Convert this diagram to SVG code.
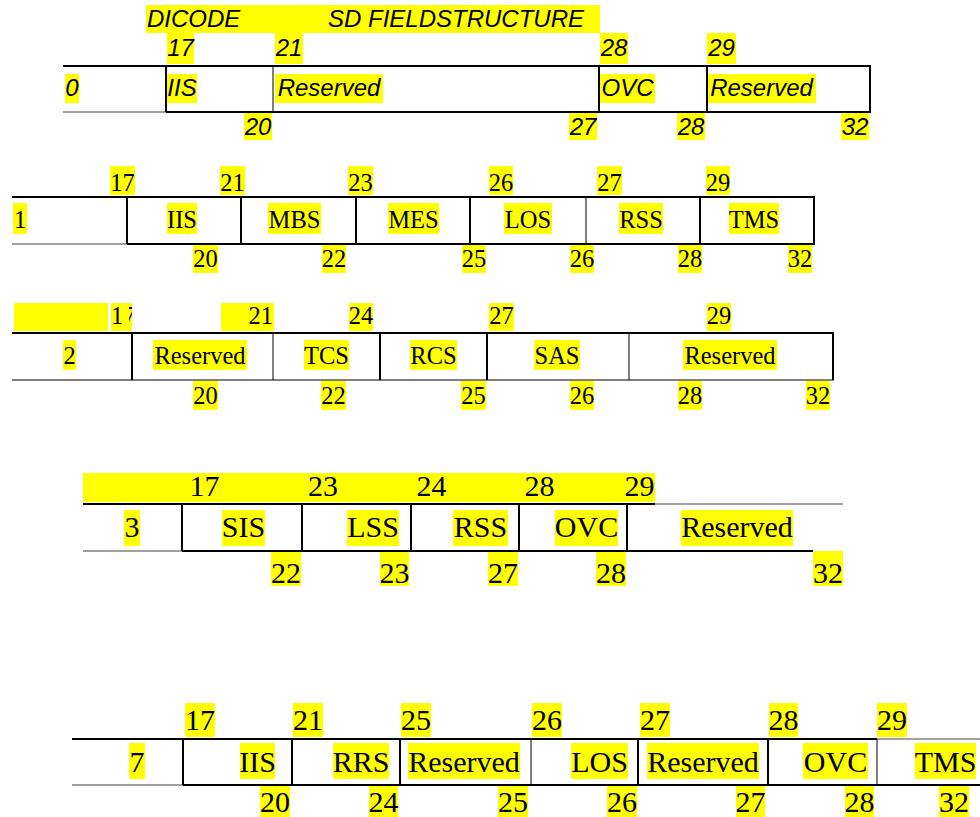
<svg xmlns="http://www.w3.org/2000/svg" width="980" height="817" viewBox="0 0 980 817">
<style>
.hl{fill:#ffff00}
.a{font-family:"Liberation Sans",Arial,sans-serif;font-style:italic;font-size:24px;fill:#000}
.t{font-family:"Liberation Serif","Times New Roman",serif;font-size:24.5px;fill:#000;text-anchor:middle}
.T{font-family:"Liberation Serif","Times New Roman",serif;font-size:30px;fill:#000;text-anchor:middle}
.am{text-anchor:middle}
.k{stroke:#000;stroke-width:2;fill:none}
.n{stroke:#000;stroke-width:1;fill:none}
.g{stroke:#808080;stroke-width:1.5;fill:none}
</style>
<defs>
<clipPath id="c17"><rect x="100" y="295" width="22" height="40"/><rect x="129" y="295" width="3" height="40"/></clipPath>
</defs>
<rect width="980" height="817" fill="#fff"/>

<!-- Row 0 -->
<g id="row0">
<rect class="hl" x="146" y="5" width="454" height="28"/>
<text class="a" x="147" y="27">DICODE</text>
<text class="a" x="328" y="27">SD FIELDSTRUCTURE</text>
<rect class="hl" x="167" y="33" width="27" height="31"/>
<rect class="hl" x="275" y="33" width="28" height="31"/>
<rect class="hl" x="600" y="33" width="28" height="31"/>
<rect class="hl" x="707" y="33" width="29" height="31"/>
<text class="a am" x="180.5" y="56">17</text>
<text class="a am" x="289" y="56">21</text>
<text class="a am" x="614" y="56">28</text>
<text class="a am" x="721.5" y="56">29</text>
<rect class="hl" x="65" y="74" width="14" height="29"/>
<rect class="hl" x="167" y="74" width="30" height="29"/>
<rect class="hl" x="275" y="74" width="108" height="29"/>
<rect class="hl" x="600" y="74" width="55" height="29"/>
<rect class="hl" x="707" y="74" width="109" height="29"/>
<text class="a am" x="72" y="96">0</text>
<text class="a am" x="182" y="96">IIS</text>
<text class="a am" x="329" y="96">Reserved</text>
<text class="a am" x="627.5" y="96">OVC</text>
<text class="a am" x="761.5" y="96">Reserved</text>
<rect class="hl" x="244" y="113" width="28" height="27"/>
<rect class="hl" x="569" y="113" width="28" height="27"/>
<rect class="hl" x="677" y="113" width="28" height="27"/>
<rect class="hl" x="841" y="113" width="28" height="27"/>
<text class="a am" x="258" y="135">20</text>
<text class="a am" x="583" y="135">27</text>
<text class="a am" x="691" y="135">28</text>
<text class="a am" x="855" y="135">32</text>
</g>

<!-- Row 1 -->
<g id="row1">
<rect class="hl" x="110" y="166" width="25" height="29"/>
<rect class="hl" x="220" y="166" width="25" height="29"/>
<rect class="hl" x="348" y="166" width="25" height="29"/>
<rect class="hl" x="489" y="166" width="24" height="29"/>
<rect class="hl" x="597" y="166" width="25" height="29"/>
<rect class="hl" x="706" y="166" width="24" height="29"/>
<text class="t" x="122.5" y="191">17</text>
<text class="t" x="232.5" y="191">21</text>
<text class="t" x="360.5" y="191">23</text>
<text class="t" x="501" y="191">26</text>
<text class="t" x="609.5" y="191">27</text>
<text class="t" x="718" y="191">29</text>
<rect class="hl" x="13" y="203" width="14" height="31"/>
<rect class="hl" x="167" y="203" width="30" height="31"/>
<rect class="hl" x="268" y="203" width="53" height="31"/>
<rect class="hl" x="388" y="203" width="51" height="31"/>
<rect class="hl" x="504" y="203" width="48" height="31"/>
<rect class="hl" x="619" y="203" width="44" height="31"/>
<rect class="hl" x="729" y="203" width="50" height="31"/>
<text class="t" x="20" y="228">1</text>
<text class="t" x="182" y="228">IIS</text>
<text class="t" x="294.5" y="228">MBS</text>
<text class="t" x="413.5" y="228">MES</text>
<text class="t" x="528" y="228">LOS</text>
<text class="t" x="641" y="228">RSS</text>
<text class="t" x="754" y="228">TMS</text>
<rect class="hl" x="193" y="245" width="25" height="28"/>
<rect class="hl" x="322" y="245" width="24" height="28"/>
<rect class="hl" x="462" y="245" width="24" height="28"/>
<rect class="hl" x="570" y="245" width="24" height="28"/>
<rect class="hl" x="678" y="245" width="24" height="28"/>
<rect class="hl" x="788" y="245" width="24" height="28"/>
<text class="t" x="205.5" y="267">20</text>
<text class="t" x="334" y="267">22</text>
<text class="t" x="474" y="267">25</text>
<text class="t" x="582" y="267">26</text>
<text class="t" x="690" y="267">28</text>
<text class="t" x="800" y="267">32</text>
</g>

<!-- Row 2 -->
<g id="row2">
<rect class="hl" x="14" y="303" width="94" height="28"/>
<rect class="hl" x="111" y="303" width="21" height="28"/>
<rect class="hl" x="221" y="303" width="53" height="28"/>
<rect class="hl" x="349" y="303" width="24" height="28"/>
<rect class="hl" x="489" y="303" width="25" height="28"/>
<rect class="hl" x="707" y="303" width="24" height="28"/>
<text class="t" x="111" y="324" style="text-anchor:start" clip-path="url(#c17)">17</text>
<text class="t" x="273" y="324" style="text-anchor:end">21</text>
<text class="t" x="361" y="324">24</text>
<text class="t" x="501.5" y="324">27</text>
<text class="t" x="719" y="324">29</text>
<rect class="hl" x="63" y="340" width="13" height="30"/>
<rect class="hl" x="153" y="340" width="94" height="30"/>
<rect class="hl" x="304" y="340" width="45" height="30"/>
<rect class="hl" x="410" y="340" width="47" height="30"/>
<rect class="hl" x="534" y="340" width="46" height="30"/>
<rect class="hl" x="683" y="340" width="94" height="30"/>
<text class="t" x="69.5" y="364">2</text>
<text class="t" x="200" y="364">Reserved</text>
<text class="t" x="326.5" y="364">TCS</text>
<text class="t" x="433.5" y="364">RCS</text>
<text class="t" x="557" y="364">SAS</text>
<text class="t" x="730" y="364">Reserved</text>
<rect class="hl" x="193" y="381" width="25" height="29"/>
<rect class="hl" x="321" y="381" width="25" height="29"/>
<rect class="hl" x="461" y="381" width="25" height="29"/>
<rect class="hl" x="570" y="381" width="24" height="29"/>
<rect class="hl" x="678" y="381" width="24" height="29"/>
<rect class="hl" x="806" y="381" width="24" height="29"/>
<text class="t" x="205.5" y="404">20</text>
<text class="t" x="333.5" y="404">22</text>
<text class="t" x="473.5" y="404">25</text>
<text class="t" x="582" y="404">26</text>
<text class="t" x="690" y="404">28</text>
<text class="t" x="818" y="404">32</text>
</g>

<!-- Row 3 -->
<g id="row3">
<rect class="hl" x="83" y="473" width="572" height="29"/>
<text class="T" x="204.5" y="496">17</text>
<text class="T" x="323" y="496">23</text>
<text class="T" x="431.5" y="496">24</text>
<text class="T" x="539.5" y="496">28</text>
<text class="T" x="639.5" y="496">29</text>
<rect class="hl" x="124" y="510" width="16" height="36"/>
<rect class="hl" x="222" y="510" width="43" height="36"/>
<rect class="hl" x="347" y="510" width="52" height="36"/>
<rect class="hl" x="453" y="510" width="55" height="36"/>
<rect class="hl" x="555" y="510" width="63" height="36"/>
<rect class="hl" x="681" y="510" width="112" height="36"/>
<text class="T" x="132" y="537">3</text>
<text class="T" x="243.5" y="537">SIS</text>
<text class="T" x="373" y="537">LSS</text>
<text class="T" x="480.5" y="537">RSS</text>
<text class="T" x="586.5" y="537">OVC</text>
<text class="T" x="737" y="537">Reserved</text>
<rect class="hl" x="271" y="552" width="30" height="34"/>
<rect class="hl" x="380" y="552" width="29" height="34"/>
<rect class="hl" x="488" y="552" width="30" height="34"/>
<rect class="hl" x="596" y="552" width="30" height="34"/>
<rect class="hl" x="813" y="551" width="30" height="35"/>
<text class="T" x="286" y="583">22</text>
<text class="T" x="394.5" y="583">23</text>
<text class="T" x="503" y="583">27</text>
<text class="T" x="611" y="583">28</text>
<text class="T" x="828" y="583">32</text>
</g>

<!-- Row 4 -->
<g id="row4">
<rect class="hl" x="185" y="703" width="30" height="34"/>
<rect class="hl" x="293" y="703" width="30" height="34"/>
<rect class="hl" x="401" y="703" width="30" height="34"/>
<rect class="hl" x="532" y="703" width="30" height="34"/>
<rect class="hl" x="640" y="703" width="30" height="34"/>
<rect class="hl" x="769" y="703" width="29" height="34"/>
<rect class="hl" x="877" y="703" width="30" height="34"/>
<text class="T" x="200" y="730">17</text>
<text class="T" x="308" y="730">21</text>
<text class="T" x="416" y="730">25</text>
<text class="T" x="547" y="730">26</text>
<text class="T" x="655" y="730">27</text>
<text class="T" x="783.5" y="730">28</text>
<text class="T" x="892" y="730">29</text>
<rect class="hl" x="129" y="743" width="16" height="36"/>
<rect class="hl" x="240" y="743" width="35" height="36"/>
<rect class="hl" x="333" y="743" width="56" height="36"/>
<rect class="hl" x="408" y="743" width="112" height="36"/>
<rect class="hl" x="571" y="743" width="57" height="36"/>
<rect class="hl" x="647" y="743" width="112" height="36"/>
<rect class="hl" x="803" y="743" width="65" height="36"/>
<rect class="hl" x="915" y="743" width="61" height="36"/>
<text class="T" x="137" y="772">7</text>
<text class="T" x="257.5" y="772">IIS</text>
<text class="T" x="361" y="772">RRS</text>
<text class="T" x="464" y="772">Reserved</text>
<text class="T" x="599.5" y="772">LOS</text>
<text class="T" x="703" y="772">Reserved</text>
<text class="T" x="835.5" y="772">OVC</text>
<text class="T" x="945.5" y="772">TMS</text>
<rect class="hl" x="260" y="786" width="30" height="31"/>
<rect class="hl" x="369" y="786" width="29" height="31"/>
<rect class="hl" x="498" y="786" width="30" height="31"/>
<rect class="hl" x="607" y="786" width="30" height="31"/>
<rect class="hl" x="736" y="786" width="29" height="31"/>
<rect class="hl" x="845" y="786" width="29" height="31"/>
<rect class="hl" x="939" y="786" width="30" height="31"/>
<text class="T" x="275" y="812">20</text>
<text class="T" x="383.5" y="812">24</text>
<text class="T" x="513" y="812">25</text>
<text class="T" x="622" y="812">26</text>
<text class="T" x="750.5" y="812">27</text>
<text class="T" x="859.5" y="812">28</text>
<text class="T" x="954" y="812">32</text>
</g>

<!-- Grid lines -->
<g id="connectors">
<!-- row 0 -->
<line class="k" x1="63" y1="66" x2="871" y2="66"/>
<line class="g" x1="63" y1="112" x2="166" y2="112"/>
<line class="k" x1="166" y1="112" x2="871" y2="112"/>
<line class="k" x1="166" y1="66" x2="166" y2="112"/>
<line class="n" x1="273" y1="66" x2="273" y2="112"/>
<line class="k" x1="599" y1="66" x2="599" y2="112"/>
<line class="k" x1="707" y1="66" x2="707" y2="112"/>
<line class="k" x1="870" y1="66" x2="870" y2="112"/>
<!-- row 1 -->
<line class="k" x1="12" y1="197" x2="815" y2="197"/>
<line class="g" x1="12" y1="244" x2="127" y2="244"/>
<line class="k" x1="127" y1="244" x2="815" y2="244"/>
<line class="k" x1="127" y1="197" x2="127" y2="244"/>
<line class="k" x1="241" y1="197" x2="241" y2="244"/>
<line class="k" x1="356" y1="197" x2="356" y2="244"/>
<line class="k" x1="470" y1="197" x2="470" y2="244"/>
<line class="n" x1="586" y1="197" x2="586" y2="244"/>
<line class="k" x1="700" y1="197" x2="700" y2="244"/>
<line class="k" x1="814" y1="197" x2="814" y2="244"/>
<!-- row 2 -->
<line class="k" x1="12" y1="333" x2="834" y2="333"/>
<line class="n" x1="12" y1="380" x2="834" y2="380"/>
<line class="k" x1="132" y1="333" x2="132" y2="380"/>
<line class="n" x1="273" y1="333" x2="273" y2="380"/>
<line class="k" x1="380" y1="333" x2="380" y2="380"/>
<line class="k" x1="487" y1="333" x2="487" y2="380"/>
<line class="n" x1="629" y1="333" x2="629" y2="380"/>
<line class="k" x1="833" y1="333" x2="833" y2="380"/>
<!-- row 3 -->
<line class="k" x1="83" y1="504" x2="655" y2="504"/>
<line class="g" x1="655" y1="504" x2="843" y2="504"/>
<line class="g" x1="83" y1="551" x2="182" y2="551"/>
<line class="k" x1="182" y1="551" x2="813" y2="551"/>
<line class="k" x1="182" y1="504" x2="182" y2="551"/>
<line class="k" x1="302" y1="504" x2="302" y2="551"/>
<line class="k" x1="411" y1="504" x2="411" y2="551"/>
<line class="k" x1="519" y1="504" x2="519" y2="551"/>
<line class="k" x1="627" y1="504" x2="627" y2="551"/>
<!-- row 4 -->
<line class="k" x1="72" y1="739" x2="877" y2="739"/>
<line class="g" x1="877" y1="739" x2="980" y2="739"/>
<line class="g" x1="72" y1="785" x2="183" y2="785"/>
<line class="k" x1="183" y1="785" x2="980" y2="785"/>
<line class="k" x1="183" y1="739" x2="183" y2="785"/>
<line class="k" x1="292" y1="739" x2="292" y2="785"/>
<line class="k" x1="400" y1="739" x2="400" y2="785"/>
<line class="n" x1="531" y1="739" x2="531" y2="785"/>
<line class="k" x1="638" y1="739" x2="638" y2="785"/>
<line class="k" x1="768" y1="739" x2="768" y2="785"/>
<line class="n" x1="877" y1="739" x2="877" y2="785"/>
</g>
</svg>
